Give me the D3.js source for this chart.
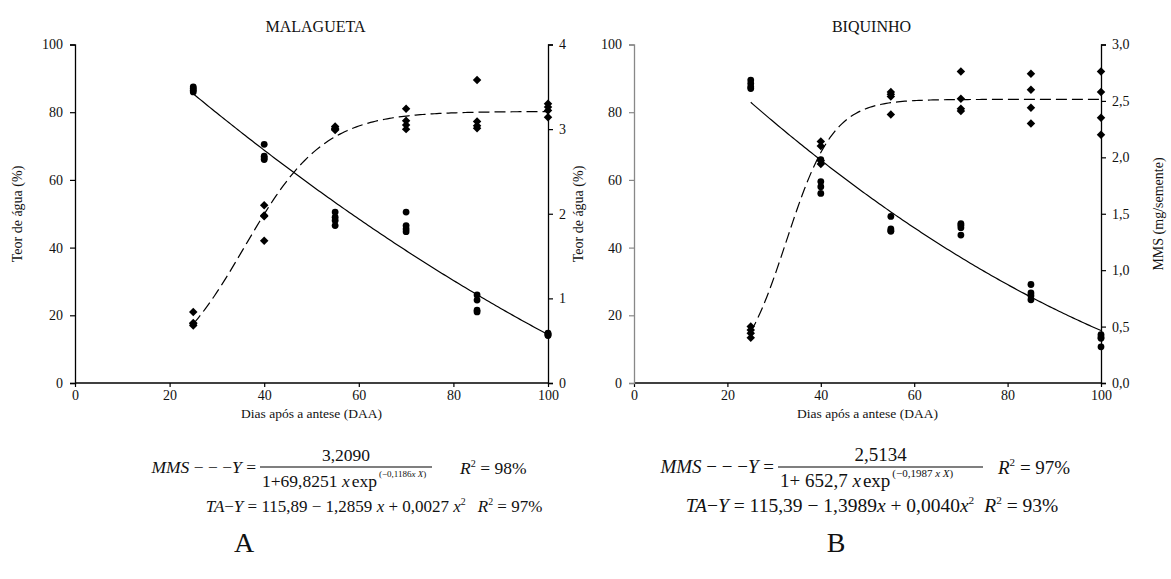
<!DOCTYPE html>
<html><head><meta charset="utf-8">
<script src="https://cdn.jsdelivr.net/npm/d3@7"></script>
<style>
html,body{margin:0;padding:0;background:#fff;}
svg text{fill:#111;}
</style></head>
<body>
<svg id="c" width="1171" height="579"></svg>
<script>
// ---------- data ----------
const days = [25, 40, 55, 70, 85, 100];
const xTicks = [0, 20, 40, 60, 80, 100];

// MALAGUETA
const malTA = [
  [87.5, 87.0, 86.5, 86.0],
  [70.5, 67.0, 66.5, 66.0],
  [50.5, 49.0, 48.0, 46.5],
  [50.5, 46.5, 45.5, 44.7],
  [26.0, 24.5, 21.5, 21.0],
  [14.7, 14.5, 14.2, 14.0]
];
const malMMS = [
  [0.84, 0.71, 0.70, 0.68],
  [2.10, 1.98, 1.97, 1.68],
  [3.03, 3.01, 3.00, 2.99],
  [3.24, 3.10, 3.05, 3.00],
  [3.58, 3.09, 3.04, 3.01],
  [3.30, 3.26, 3.22, 3.14]
];
const malTAfit = [115.89, -1.2859, 0.0027];
const malMMSfit = [3.2090, 69.8251, 0.1186];
const malLeftTicks = [0, 20, 40, 60, 80, 100];
const malRightTicks = [0, 1, 2, 3, 4];
const malRightLabels = ["0", "1", "2", "3", "4"];

// BIQUINHO
const biqTA = [
  [89.5, 88.5, 87.5, 87.0],
  [66.0, 59.5, 58.0, 56.0],
  [49.2, 45.5, 45.0, 44.8],
  [47.1, 46.6, 45.9, 43.7],
  [29.1, 26.6, 25.8, 24.6],
  [14.3, 13.6, 13.2, 10.7]
];
const biqMMS = [
  [0.50, 0.47, 0.44, 0.40],
  [2.14, 2.10, 1.97, 1.94],
  [2.58, 2.56, 2.54, 2.38],
  [2.76, 2.52, 2.43, 2.41],
  [2.74, 2.60, 2.44, 2.30],
  [2.76, 2.58, 2.35, 2.20]
];
const biqTAfit = [115.39, -1.3989, 0.0040];
const biqMMSfit = [2.5134, 652.7, 0.1987];
const biqLeftTicks = [0, 20, 40, 60, 80, 100];
const biqRightTicks = [0, 0.5, 1, 1.5, 2, 2.5, 3];
const biqRightLabels = ["0,0", "0,5", "1,0", "1,5", "2,0", "2,5", "3,0"];

// ---------- drawing ----------
const FONT = "Liberation Serif";
const svg = d3.select("#c");
const diamond = {draw(ctx, size){const r=Math.sqrt(size/2);ctx.moveTo(0,-r);ctx.lineTo(r,0);ctx.lineTo(0,r);ctx.lineTo(-r,0);ctx.closePath();}};
const fitX = d3.range(25, 100.5, 0.5);

function panel(o){
  const g = svg.append("g").attr("font-family",FONT);
  const x = d3.scaleLinear().domain([0,100]).range([o.x0, o.x1]);
  const yL = d3.scaleLinear().domain([0,100]).range([383, 44.5]);
  const yR = d3.scaleLinear().domain([0,o.rMax]).range([383, 44.5]);

  const ax = g.append("g").attr("transform","translate(0,383)")
    .call(d3.axisBottom(x).tickValues(xTicks).tickSize(4).tickPadding(3).tickFormat(d3.format("d")));
  const al = g.append("g").attr("transform",`translate(${o.x0},0)`)
    .call(d3.axisLeft(yL).tickValues(o.lTicks).tickSize(5).tickPadding(7).tickFormat(d3.format("d")));
  const ar = g.append("g").attr("transform",`translate(${o.x1},0)`)
    .call(d3.axisRight(yR).tickValues(o.rTicks).tickSize(5).tickPadding(6).tickFormat((d,i)=>o.rLabels[i]));
  [ax,al,ar].forEach(a=>{
    a.attr("font-family",FONT);
    a.select(".domain").attr("stroke","#000").attr("stroke-width",1.3);
    a.selectAll(".tick line").attr("stroke","#000").attr("stroke-width",1.2);
    a.selectAll("text").attr("font-size",14).attr("font-family",FONT).attr("fill","#222");
  });
  if(o.grayLeft){ al.select(".domain").attr("stroke","#888"); al.selectAll(".tick line").attr("stroke","#888"); }
  ax.select(".domain").attr("d",`M${o.x0},0H${o.x1}`);

  // fitted curves (from the equations shown under the chart)
  const ta = o.taFit, mm = o.mmsFit;
  g.append("path").datum(fitX).attr("fill","none").attr("stroke","#000").attr("stroke-width",1.2)
    .attr("d", d3.line().x(d=>x(d)).y(d=>yL(ta[0]+ta[1]*d+ta[2]*d*d)));
  g.append("path").datum(fitX).attr("fill","none").attr("stroke","#000").attr("stroke-width",1.2)
    .attr("stroke-dasharray","11,5")
    .attr("d", d3.line().x(d=>x(d)).y(d=>yR(mm[0]/(1+mm[1]*Math.exp(-mm[2]*d)))));

  // points
  const taPts = [], mmPts = [];
  days.forEach((dd,i)=>{ o.ta[i].forEach(v=>taPts.push([dd,v])); o.mms[i].forEach(v=>mmPts.push([dd,v])); });
  g.selectAll(".ta").data(taPts).join("circle").attr("cx",d=>x(d[0])).attr("cy",d=>yL(d[1])).attr("r",3.4).attr("fill","#000");
  g.selectAll(".mm").data(mmPts).join("path").attr("transform",d=>`translate(${x(d[0])},${yR(d[1])})`)
    .attr("d", d3.symbol().type(diamond).size(36)()).attr("fill","#000");

  // titles
  g.append("text").attr("x",(o.x0+o.x1)/2+4).attr("y",32).attr("text-anchor","middle").attr("font-size",16).text(o.title);
  g.append("text").attr("x",(o.x0+o.x1)/2).attr("y",418).attr("text-anchor","middle").attr("font-size",13.5).text("Dias após a antese (DAA)");
  g.append("text").attr("transform",`translate(${o.ylx},214) rotate(-90)`).attr("text-anchor","middle").attr("dy","0.35em").attr("font-size",14).text(o.yl);
  if(o.yr) g.append("text").attr("transform",`translate(${o.yrx},214) rotate(-90)`).attr("text-anchor","middle").attr("dy","0.35em").attr("font-size",14).text(o.yr);
}

panel({x0:75,x1:548,rMax:4,lTicks:malLeftTicks,rTicks:malRightTicks,rLabels:malRightLabels,
  ta:malTA,mms:malMMS,taFit:malTAfit,mmsFit:malMMSfit,title:"MALAGUETA",
  ylx:17,yl:"Teor de água (%)",yr:null});
panel({x0:634,x1:1101,rMax:3,lTicks:biqLeftTicks,rTicks:biqRightTicks,rLabels:biqRightLabels,
  ta:biqTA,mms:biqMMS,taFit:biqTAfit,mmsFit:biqMMSfit,title:"BIQUINHO",grayLeft:true,
  ylx:578,yl:"Teor de água (%)",yrx:1158,yr:"MMS (mg/semente)"});

// ---------- equations ----------
function eqBlock(o){
  const g = svg.append("g").attr("font-size",o.fs).attr("font-family",FONT);
  const sup = o.fs*0.58;
  const t1 = g.append("text").attr("x",o.fx-4).attr("y",473).attr("text-anchor","end");
  t1.append("tspan").attr("font-style","italic").text("MMS");
  t1.append("tspan").text(" − − −");
  t1.append("tspan").attr("font-style","italic").text("Y");
  t1.append("tspan").text(" =");
  g.append("line").attr("x1",o.fx).attr("x2",o.fx+o.fw).attr("y1",467).attr("y2",467).attr("stroke","#000").attr("stroke-width",1.1);
  g.append("text").attr("x",o.fx+o.fw/2).attr("y",461).attr("text-anchor","middle").text(o.num);
  const d = g.append("text").attr("x",o.fx+2).attr("y",487);
  d.append("tspan").text("1+"+o.den+" ");
  d.append("tspan").attr("font-style","italic").text("x");
  d.append("tspan").attr("dx",2).text("exp");
  d.append("tspan").attr("font-size",o.sup).attr("dy",-o.fs*0.55).attr("dx",2).text("(−"+o.k);
  d.append("tspan").attr("font-size",o.sup).attr("font-style","italic").text(o.kx+"X");
  d.append("tspan").attr("font-size",o.sup).text(")");
  const r = g.append("text").attr("x",o.rx).attr("y",474);
  r.append("tspan").attr("font-style","italic").text("R");
  r.append("tspan").attr("font-size",sup).attr("dy",-o.fs*0.42).text("2");
  r.append("tspan").attr("dy",o.fs*0.42).text(" = "+o.r1);
  const t = g.append("text").attr("x",o.tx).attr("y",512).attr("text-anchor","middle").attr("font-size",o.tfs);
  const tsup = o.tfs*0.58;
  t.append("tspan").attr("font-style","italic").text("TA");
  t.append("tspan").text("−");
  t.append("tspan").attr("font-style","italic").text("Y");
  t.append("tspan").text(" = "+o.a+" − "+o.b+o.sp);
  t.append("tspan").attr("font-style","italic").text("x");
  t.append("tspan").text(" + "+o.c+o.sp);
  t.append("tspan").attr("font-style","italic").text("x");
  t.append("tspan").attr("font-size",tsup).attr("dy",-o.tfs*0.42).text("2");
  t.append("tspan").attr("dy",o.tfs*0.42).attr("dx",o.gap).attr("font-style","italic").text("R");
  t.append("tspan").attr("font-size",tsup).attr("dy",-o.tfs*0.42).text("2");
  t.append("tspan").attr("dy",o.tfs*0.42).text(" = "+o.r2);
  g.append("text").attr("x",o.lx).attr("y",552).attr("text-anchor","middle").attr("font-size",28).text(o.letter);
}
eqBlock({fs:17.5,tfs:17,sup:9,fx:260,fw:172,num:"3,2090",den:"69,8251",k:"0,1186",kx:"x ",rx:460,r1:"98%",tx:374,a:"115,89",b:"1,2859",c:"0,0027",sp:" ",gap:12,r2:"97%",lx:244,letter:"A"});
eqBlock({fs:19,tfs:19.5,sup:11,fx:778,fw:205,num:"2,5134",den:" 652,7  ",k:"0,1987 ",kx:"x ",rx:998,r1:"97%",tx:872,a:"115,39",b:"1,3989",c:"0,0040",sp:"",gap:10,r2:"93%",lx:836,letter:"B"});
</script>
</body></html>
